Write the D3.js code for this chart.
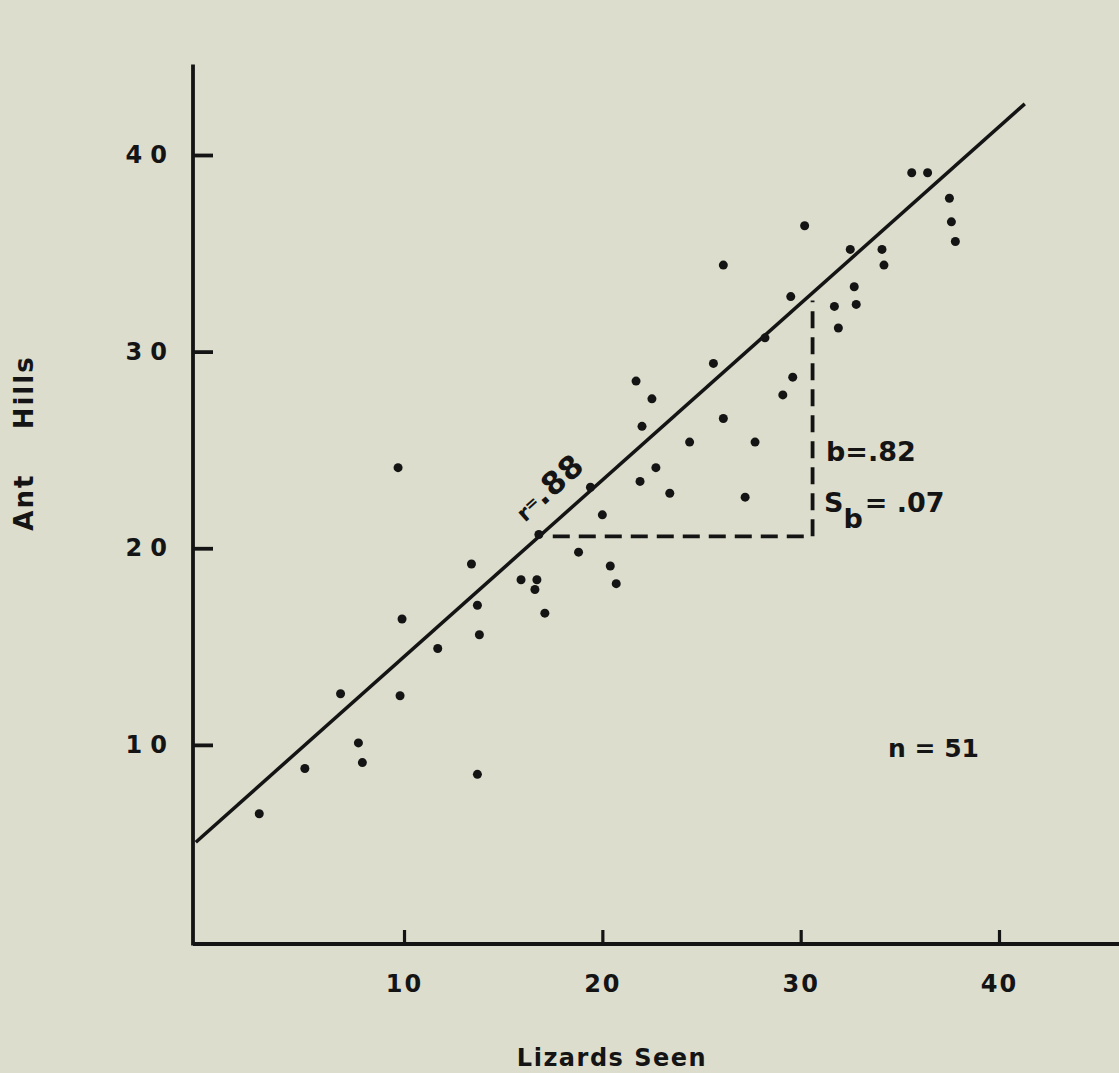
<!DOCTYPE html>
<html>
<head>
<meta charset="utf-8">
<script src="https://cdn.jsdelivr.net/npm/d3@7"></script>
<style>
  body { margin: 0; background: #dcddcd; }
  svg { display: block; }
  text { font-family: "DejaVu Sans", sans-serif; fill: #141414; font-weight: bold; }
</style>
</head>
<body>
<div id="chart"></div>
<script>
  // data
  const lizards = [2.7, 5.0, 6.8, 7.7, 7.9, 9.7, 9.8, 9.9, 11.7, 13.4, 13.7, 13.8, 13.7,
    15.9, 16.7, 16.6, 17.1, 16.8, 18.8, 19.4, 20.0, 20.4, 20.7, 21.7, 21.9, 22.0, 22.5,
    22.7, 23.4, 24.4, 25.6, 26.1, 26.1, 27.2, 27.7, 28.2, 29.1, 29.6, 29.5, 30.2, 31.7,
    31.9, 32.5, 32.7, 32.8, 34.1, 34.2, 35.6, 36.4, 37.5, 37.6, 37.8];
  const antHills = [6.5, 8.8, 12.6, 10.1, 9.1, 24.1, 12.5, 16.4, 14.9, 19.2, 17.1, 15.6, 8.5,
    18.4, 18.4, 17.9, 16.7, 20.7, 19.8, 23.1, 21.7, 19.1, 18.2, 28.5, 23.4, 26.2, 27.6,
    24.1, 22.8, 25.4, 29.4, 26.6, 34.4, 22.6, 25.4, 30.7, 27.8, 28.7, 32.8, 36.4, 32.3,
    31.2, 35.2, 33.3, 32.4, 35.2, 34.4, 39.1, 39.1, 37.8, 36.6, 35.6];
  const xTicks = [10, 20, 30, 40];
  const yTicks = [10, 20, 30, 40];
  // fitted line ends and slope triangle
  const fitX = [-0.5, 41.3];
  const fitY = [5.05, 42.6];
  const slopeX = [17.5, 30.6];
  const slopeY = [20.6, 32.6];

  const width = 1119, height = 1073;

  const svg = d3.select("#chart")
    .append("svg")
    .attr("width", width)
    .attr("height", height);

  const x = d3.scaleLinear().domain([0, 40]).range([205.7, 999]);
  const y = d3.scaleLinear().domain([0, 40]).range([941.5, 155]);

  const ink = "#141414";

  // axis lines
  svg.append("line")
    .attr("x1", x(-0.64)).attr("x2", x(46.5))
    .attr("y1", 944).attr("y2", 944)
    .attr("stroke", ink).attr("stroke-width", 3.8);
  svg.append("line")
    .attr("x1", 193).attr("x2", 193)
    .attr("y1", y(44.6)).attr("y2", 945.5)
    .attr("stroke", ink).attr("stroke-width", 3.8);

  // x axis ticks
  const gx = svg.append("g")
    .attr("transform", "translate(0,944)")
    .call(d3.axisBottom(x).tickValues(xTicks).tickSize(-14).tickPadding(31));
  gx.select(".domain").remove();
  gx.selectAll("line").attr("stroke", ink).attr("stroke-width", 3.2);
  gx.selectAll("text").attr("font-size", 24).attr("letter-spacing", 2).attr("fill", ink)
    .attr("font-family", "DejaVu Sans").attr("font-weight", "bold");

  // y axis ticks
  const gy = svg.append("g")
    .attr("transform", "translate(193,0)")
    .call(d3.axisLeft(y).tickValues(yTicks).tickSize(-20).tickPadding(18));
  gy.select(".domain").remove();
  gy.selectAll("line").attr("stroke", ink).attr("stroke-width", 3.8);
  gy.selectAll("text").attr("font-size", 24).attr("letter-spacing", 8).attr("fill", ink)
    .attr("font-family", "DejaVu Sans").attr("font-weight", "bold");

  // axis titles
  svg.append("text")
    .attr("x", 612).attr("y", 1066)
    .attr("text-anchor", "middle")
    .attr("font-size", 24).attr("letter-spacing", 1.5)
    .text("Lizards  Seen");
  svg.append("text")
    .attr("transform", "translate(33,443) rotate(-90)")
    .attr("text-anchor", "middle")
    .attr("font-size", 26).attr("letter-spacing", 2)
    .attr("xml:space", "preserve")
    .text("Ant    Hills");

  // regression line
  svg.append("line")
    .attr("x1", x(fitX[0])).attr("y1", y(fitY[0]))
    .attr("x2", x(fitX[1])).attr("y2", y(fitY[1]))
    .attr("stroke", ink).attr("stroke-width", 3.5);

  // slope triangle
  svg.append("path")
    .attr("d", `M${x(slopeX[0])},${y(slopeY[0])}H${x(slopeX[1])}V${y(slopeY[1])}`)
    .attr("fill", "none")
    .attr("stroke", ink).attr("stroke-width", 3.8)
    .attr("stroke-dasharray", "17,9");

  // points
  svg.append("g")
    .selectAll("circle")
    .data(lizards)
    .join("circle")
    .attr("cx", (d, i) => x(d))
    .attr("cy", (d, i) => y(antHills[i]))
    .attr("r", 4.5)
    .attr("fill", ink);

  // r label along the line
  const ang = Math.atan2(y(fitY[0]) - y(fitY[1]), x(fitX[1]) - x(fitX[0])) * 180 / Math.PI;
  const rt = svg.append("text")
    .attr("transform", `translate(${x(16.1)},${y(21.3)}) rotate(${-ang})`);
  rt.append("tspan").attr("font-size", 22).text("r");
  rt.append("tspan").attr("font-size", 16).attr("dy", -5).text("=");
  rt.append("tspan").attr("font-size", 31).attr("dy", 5).attr("letter-spacing", 1).text(".88");

  // slope annotations
  svg.append("text")
    .attr("x", 826).attr("y", 461)
    .attr("font-size", 27)
    .text("b=.82");
  const sb = svg.append("text")
    .attr("x", 824).attr("y", 512)
    .attr("font-size", 27);
  sb.append("tspan").text("S");
  sb.append("tspan").attr("dy", 16).text("b");
  sb.append("tspan").attr("dy", -16).attr("dx", 2).text("= .07");

  svg.append("text")
    .attr("x", 888).attr("y", 757)
    .attr("font-size", 25)
    .text("n = 51");
</script>
</body>
</html>
